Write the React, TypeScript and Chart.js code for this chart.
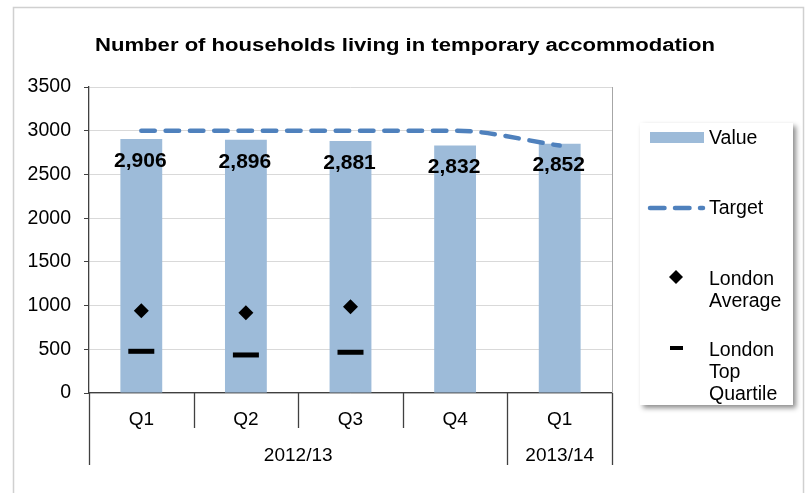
import React, { useEffect, useRef } from "react";
import { Chart, registerables } from "chart.js";

Chart.register(...registerables);

// ---- data ----
const quarters = ["Q1", "Q2", "Q3", "Q4", "Q1"];
const yearGroups = ["2012/13", "2013/14"];
const yearGroupSizes = [4, 1];
const values = [2906, 2896, 2881, 2832, 2852];
const target = [3000, 3000, 3000, 3000, 2830];
const londonAverage: (number | null)[] = [942, 919, 987, null, null];
const londonTopQuartile: (number | null)[] = [477, 435, 466, null, null];
const yMin = 0;
const yMax = 3500;
const yStep = 500;
const chartTitle = "Number of households living in temporary accommodation";
const legendValue = "Value";
const legendTarget = "Target";
const legendAverage = ["London", "Average"];
const legendTopQuartile = ["London", "Top", "Quartile"];

const FONT = "'Liberation Sans', Arial, Helvetica, sans-serif";
const BAR_COLOR = "rgb(157,187,217)";
const TARGET_COLOR = "#4f81bd";
const AXIS_COLOR = "#404040";
const GRID_COLOR = "#d9d9d9";

const decorPlugin = {
  id: "decor",
  beforeDraw(chart: any) {
    const ctx = chart.ctx as CanvasRenderingContext2D;
    ctx.save();
    ctx.fillStyle = "#ffffff";
    ctx.fillRect(0, 0, chart.width, chart.height);
    ctx.strokeStyle = "#d0d0d0";
    ctx.lineWidth = 1.5;
    ctx.strokeRect(13.5, 7.5, 790, 600);
    ctx.restore();
  },
  afterDatasetsDraw(chart: any) {
    const ctx = chart.ctx as CanvasRenderingContext2D;
    const meta = chart.getDatasetMeta(0);
    ctx.save();
    ctx.fillStyle = "#000";
    ctx.font = `bold 21px ${FONT}`;
    ctx.textAlign = "center";
    ctx.textBaseline = "middle";
    meta.data.forEach((el: any, i: number) => {
      const txt = values[i].toLocaleString("en-US");
      ctx.fillText(txt, el.x - 1, el.y + 22);
    });
    ctx.restore();
  },
  afterDraw(chart: any) {
    const ctx = chart.ctx as CanvasRenderingContext2D;
    const { left, right, top, bottom } = chart.chartArea;
    const xs = chart.scales.x;
    ctx.save();

    // plot area right border
    ctx.strokeStyle = "#a6a6a6";
    ctx.lineWidth = 1;
    ctx.beginPath();
    ctx.moveTo(Math.round(right) + 0.5, top);
    ctx.lineTo(Math.round(right) + 0.5, bottom);
    ctx.stroke();

    // category separators
    const n = quarters.length;
    const bounds: number[] = [left];
    for (let i = 1; i < n; i++) {
      bounds.push((xs.getPixelForValue(i - 1) + xs.getPixelForValue(i)) / 2);
    }
    bounds.push(right);
    const groupEdges = new Set<number>([0]);
    let acc = 0;
    yearGroupSizes.forEach((s) => {
      acc += s;
      groupEdges.add(acc);
    });
    ctx.strokeStyle = AXIS_COLOR;
    ctx.lineWidth = 1.3;
    bounds.forEach((bx, i) => {
      const len = groupEdges.has(i) ? 72 : 35;
      ctx.beginPath();
      ctx.moveTo(Math.round(bx) + 0.5, bottom);
      ctx.lineTo(Math.round(bx) + 0.5, bottom + len);
      ctx.stroke();
    });

    // year group labels
    ctx.fillStyle = "#000";
    ctx.font = `19px ${FONT}`;
    ctx.textAlign = "center";
    ctx.textBaseline = "middle";
    let start = 0;
    yearGroups.forEach((g, gi) => {
      const end = start + yearGroupSizes[gi];
      const cx = (bounds[start] + bounds[end]) / 2;
      ctx.fillText(g, cx, bottom + 63);
      start = end;
    });

    // title (stretched horizontally like the reference)
    ctx.font = `bold 18px ${FONT}`;
    const w = ctx.measureText(chartTitle).width;
    const sx = 620 / w;
    ctx.save();
    ctx.translate(405, 46);
    ctx.scale(sx, 1);
    ctx.textAlign = "center";
    ctx.fillText(chartTitle, 0, 0);
    ctx.restore();

    // legend box with shadow
    ctx.save();
    ctx.shadowColor = "rgba(0,0,0,0.45)";
    ctx.shadowBlur = 5;
    ctx.shadowOffsetX = 3;
    ctx.shadowOffsetY = 3;
    ctx.fillStyle = "#fff";
    ctx.fillRect(640, 123, 153, 282);
    ctx.restore();

    ctx.font = `19.5px ${FONT}`;
    ctx.textAlign = "left";
    ctx.textBaseline = "middle";
    ctx.fillStyle = "#000";
    const tx = 709;

    // Value
    ctx.fillStyle = BAR_COLOR;
    ctx.fillRect(650, 132, 54, 11);
    ctx.fillStyle = "#000";
    ctx.fillText(legendValue, tx, 139);

    // Target
    ctx.save();
    ctx.strokeStyle = TARGET_COLOR;
    ctx.lineWidth = 4.5;
    ctx.lineCap = "round";
    ctx.setLineDash([14.5, 10.5]);
    ctx.beginPath();
    ctx.moveTo(650, 208);
    ctx.lineTo(703, 208);
    ctx.stroke();
    ctx.restore();
    ctx.fillText(legendTarget, tx, 209);

    // London Average
    ctx.beginPath();
    ctx.moveTo(676, 270);
    ctx.lineTo(683, 277);
    ctx.lineTo(676, 284);
    ctx.lineTo(669, 277);
    ctx.closePath();
    ctx.fill();
    legendAverage.forEach((t, i) => ctx.fillText(t, tx, 280 + i * 22));

    // London Top Quartile
    ctx.fillRect(670, 346, 13, 4);
    legendTopQuartile.forEach((t, i) => ctx.fillText(t, tx, 351 + i * 22));

    ctx.restore();
  },
};

export default function App() {
  const ref = useRef<HTMLCanvasElement | null>(null);

  useEffect(() => {
    if (!ref.current) return;
    Chart.defaults.font.family = FONT;
    const chart = new Chart(ref.current, {
      type: "bar",
      data: {
        labels: quarters,
        datasets: [
          {
            type: "bar",
            label: legendValue,
            data: values,
            backgroundColor: BAR_COLOR,
            borderWidth: 0,
            categoryPercentage: 1,
            barPercentage: 0.4,
            order: 4,
          } as any,
          {
            type: "line",
            label: legendTarget,
            data: target,
            borderColor: TARGET_COLOR,
            borderWidth: 4.5,
            borderDash: [13.5, 10.8],
            borderCapStyle: "round",
            cubicInterpolationMode: "monotone",
            pointRadius: 0,
            fill: false,
            order: 3,
          } as any,
          {
            type: "line",
            label: legendAverage.join(" "),
            data: londonAverage,
            showLine: false,
            pointStyle: "rectRot",
            pointRadius: 7.5,
            pointBackgroundColor: "#000",
            pointBorderColor: "#000",
            pointBorderWidth: 0,
            order: 2,
          } as any,
          {
            type: "line",
            label: legendTopQuartile.join(" "),
            data: londonTopQuartile,
            showLine: false,
            pointStyle: "line",
            pointRadius: 13,
            pointBorderColor: "#000",
            pointBorderWidth: 5,
            order: 1,
          } as any,
        ],
      },
      options: {
        responsive: false,
        devicePixelRatio: 1,
        animation: false,
        events: [],
        layout: { padding: { left: 19, right: 193, top: 87, bottom: 28 } },
        plugins: {
          legend: { display: false },
          title: { display: false },
          tooltip: { enabled: false },
        },
        scales: {
          x: {
            type: "category",
            offset: true,
            grid: { display: true, drawOnChartArea: false, drawTicks: false },
            border: { display: true, color: AXIS_COLOR, width: 1.3 },
            ticks: {
              color: "#000",
              font: { size: 19, family: FONT },
              padding: 15,
              maxRotation: 0,
              autoSkip: false,
            },
            afterFit: (s: any) => {
              s.height = 72;
            },
          },
          y: {
            min: yMin,
            max: yMax,
            grid: {
              color: GRID_COLOR,
              lineWidth: 1,
              tickLength: 5,
              tickColor: AXIS_COLOR,
            },
            border: { display: true, color: AXIS_COLOR, width: 1.3 },
            ticks: {
              stepSize: yStep,
              color: "#000",
              font: { size: 19.5, family: FONT },
              padding: 13,
              callback: (v: any) => String(v),
            },
            afterFit: (s: any) => {
              s.width = 70;
            },
          },
        },
      },
      plugins: [decorPlugin],
    });
    return () => chart.destroy();
  }, []);

  return (
    <div style={{ position: "absolute", left: 0, top: 0, width: 805, height: 493, background: "#fff" }}>
      <canvas ref={ref} width={805} height={493} style={{ display: "block" }} />
    </div>
  );
}
